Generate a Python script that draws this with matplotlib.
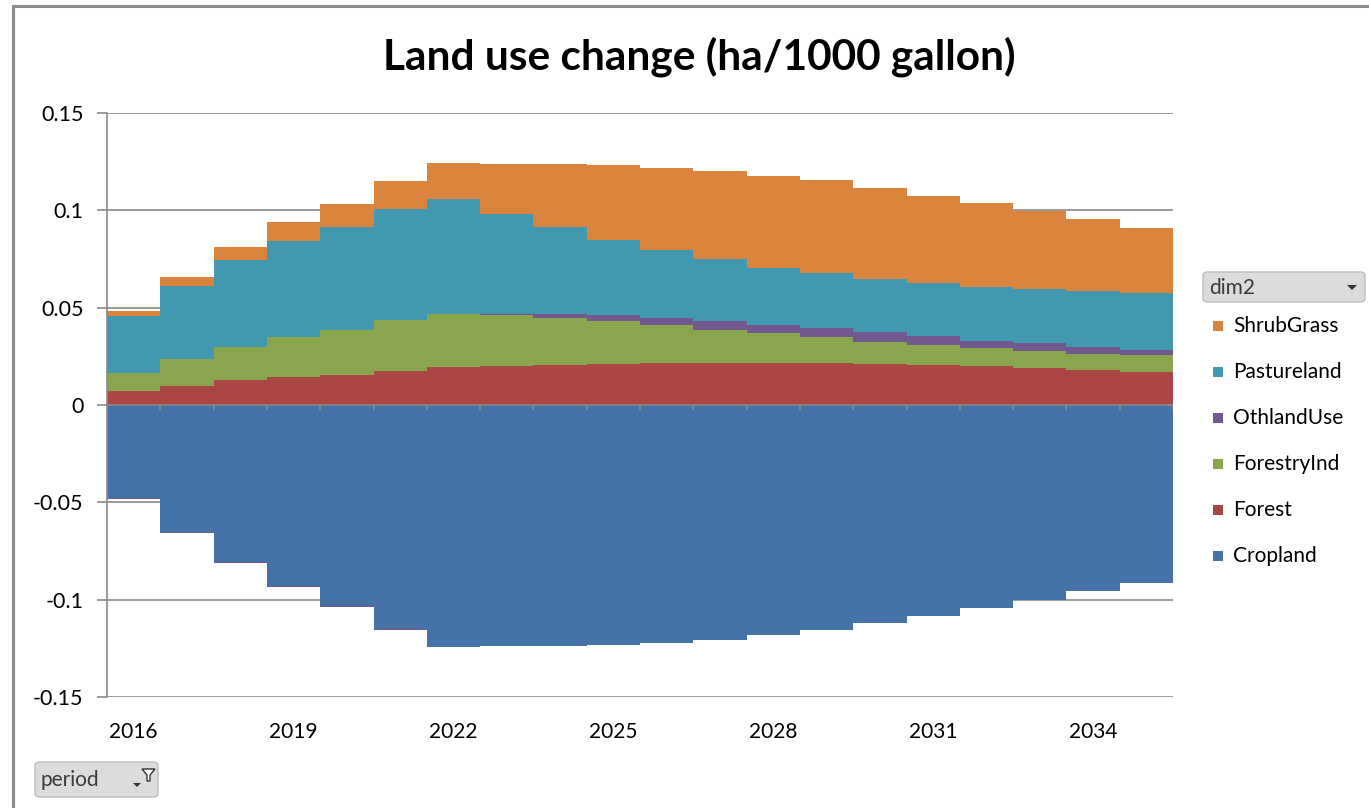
import numpy as np
import matplotlib
matplotlib.use('Agg')
import matplotlib.pyplot as plt
from matplotlib.patches import FancyBboxPatch, Rectangle, Polygon
from matplotlib.lines import Line2D

plt.rcParams['font.family'] = ['Lato', 'DejaVu Sans']

years = list(range(2016, 2036))

# stacked column data, ha per 1000 gallon
cropland = [-0.0478, -0.0654, -0.0809, -0.0932, -0.1033, -0.1151, -0.1243, -0.1240,
            -0.1238, -0.1234, -0.1225, -0.1205, -0.1182, -0.1158, -0.1120, -0.1082,
            -0.1045, -0.1003, -0.0957, -0.0915]
forest = [0.0072, 0.0100, 0.0126, 0.0143, 0.0155, 0.0176, 0.0193, 0.0199, 0.0207, 0.0213,
          0.0218, 0.0218, 0.0218, 0.0218, 0.0213, 0.0207, 0.0201, 0.0189, 0.0182, 0.0168]
forestry_ind = [0.0094, 0.0137, 0.0173, 0.0205, 0.0231, 0.0262, 0.0275, 0.0262, 0.0242, 0.0217,
                0.0194, 0.0168, 0.0151, 0.0132, 0.0112, 0.0099, 0.0093, 0.0086, 0.0081, 0.0089]
othland_use = [-0.0005, -0.0005, -0.0005, -0.0005, -0.0005, -0.0004, -0.0002, 0.0007, 0.0019, 0.0033,
               0.0037, 0.0044, 0.0044, 0.0045, 0.0049, 0.0051, 0.0037, 0.0045, 0.0037, 0.0025]
pastureland = [0.0293, 0.0372, 0.0447, 0.0497, 0.0527, 0.0570, 0.0589, 0.0514, 0.0445, 0.0387,
               0.0345, 0.0321, 0.0293, 0.0282, 0.0271, 0.0269, 0.0276, 0.0275, 0.0288, 0.0293]
shrub_grass = [0.0024, 0.0048, 0.0067, 0.0094, 0.0121, 0.0144, 0.0187, 0.0257, 0.0324, 0.0382,
               0.0426, 0.0450, 0.0471, 0.0477, 0.0471, 0.0450, 0.0432, 0.0403, 0.0365, 0.0332]

series_names = ['Cropland', 'Forest', 'ForestryInd', 'OthlandUse', 'Pastureland', 'ShrubGrass']
series_values = [cropland, forest, forestry_ind, othland_use, pastureland, shrub_grass]
colors = ['#4572A7', '#AA4643', '#89A54E', '#71588F', '#4198AF', '#DB843D']

y_ticks = [-0.15, -0.1, -0.05, 0, 0.05, 0.1, 0.15]
y_labels = ['-0.15', '-0.1', '-0.05', '0', '0.05', '0.1', '0.15']
x_label_years = years[::3]

W, H = 1369, 808
fig = plt.figure(figsize=(W / 100, H / 100), dpi=100)
ax = fig.add_axes([107 / W, 1 - 697 / H, (1173 - 107) / W, (697 - 113) / H])

n = len(years)
# column edges; columns touch (zero gap), so each series is one stepped band
edges = np.arange(n + 1) - 0.5
pos_base = np.zeros(n)
neg_base = np.zeros(n)
for name, vals, c in zip(series_names, series_values, colors):
    v = np.array(vals)
    lo = np.where(v >= 0, pos_base, neg_base)
    hi = lo + v
    ax.fill_between(edges, np.append(lo, lo[-1]), np.append(hi, hi[-1]), step='post',
                    facecolor=c, edgecolor='none', linewidth=0, zorder=2)
    pos_base = pos_base + np.where(v >= 0, v, 0)
    neg_base = neg_base + np.where(v < 0, v, 0)

ax.set_xlim(-0.5, n - 0.5)
ax.set_ylim(-0.15, 0.15)

grid_c = '#8a8a8a'
ax.set_yticks(y_ticks)
ax.set_yticklabels(y_labels)
ax.yaxis.grid(True, color=grid_c, linewidth=1.2, zorder=0)
ax.set_axisbelow(True)
ax.tick_params(axis='y', length=7, width=1.2, color=grid_c, pad=10, labelsize=15.5)

ax.set_xticks([years.index(y) for y in x_label_years])
ax.set_xticklabels([str(y) for y in x_label_years])
ax.tick_params(axis='x', length=0, pad=18, labelsize=15)

for side in ['top', 'right', 'bottom']:
    ax.spines[side].set_visible(False)
ax.spines['left'].set_color(grid_c)
ax.spines['left'].set_linewidth(1.2)

# category axis sits on zero with tick marks between columns
ax.axhline(0, color=grid_c, linewidth=1.2, zorder=3)
ax.vlines(edges, -0.0027, 0, color=grid_c, linewidth=1.2, zorder=3)

fig.text(699 / W, 1 - 57 / H, 'Land use change (ha/1000 gallon)', ha='center', va='center',
         fontsize=30.5, fontweight='bold', color='black')

# outer chart frame (left and top edges)
frame_c = '#8c8c8c'
fig.add_artist(Line2D([13 / W, 13 / W], [0, 1 - 6 / H], color=frame_c, linewidth=2.2))
fig.add_artist(Line2D([13 / W, 1], [1 - 6 / H, 1 - 6 / H], color=frame_c, linewidth=2.2))

# legend, top entry is the last stacked series
for i, (name, c) in enumerate(zip(series_names[::-1], colors[::-1])):
    yc = 326 + 46 * i
    fig.add_artist(Rectangle((1213 / W, 1 - (yc + 5) / H), 10 / W, 10 / H,
                             transform=fig.transFigure, facecolor=c, edgecolor='none'))
    fig.text(1233 / W, 1 - yc / H, name, ha='left', va='center', fontsize=15, color='black')


def field_button(x0, y0, x1, y1, label):
    fig.add_artist(FancyBboxPatch((x0 / W, 1 - y1 / H), (x1 - x0) / W, (y1 - y0) / H,
                                  boxstyle='round,pad=0,rounding_size=0.004',
                                  transform=fig.transFigure, facecolor='#dcdcdc',
                                  edgecolor='#bdbdbd', linewidth=1))
    fig.text((x0 + 6) / W, 1 - ((y0 + y1) / 2 + 1) / H, label, ha='left', va='center',
             fontsize=15, color='#3c3a3a')


field_button(1203, 272, 1365, 302, 'dim2')
fig.add_artist(Polygon([[1347 / W, 1 - 285 / H], [1357 / W, 1 - 285 / H], [1352 / W, 1 - 290 / H]],
                       closed=True, transform=fig.transFigure, facecolor='#333333', edgecolor='none'))

field_button(35, 762, 158, 797, 'period')
fig.add_artist(Polygon([[133 / W, 1 - 783 / H], [141 / W, 1 - 783 / H], [137 / W, 1 - 787 / H]],
                       closed=True, transform=fig.transFigure, facecolor='#333333', edgecolor='none'))
fig.add_artist(Polygon([[142 / W, 1 - 769 / H], [155 / W, 1 - 769 / H], [150 / W, 1 - 775 / H],
                        [150 / W, 1 - 781 / H], [147 / W, 1 - 781 / H], [147 / W, 1 - 775 / H]],
                       closed=True, transform=fig.transFigure, facecolor='white',
                       edgecolor='#333333', linewidth=1))

fig.savefig('out.png', dpi=100)
